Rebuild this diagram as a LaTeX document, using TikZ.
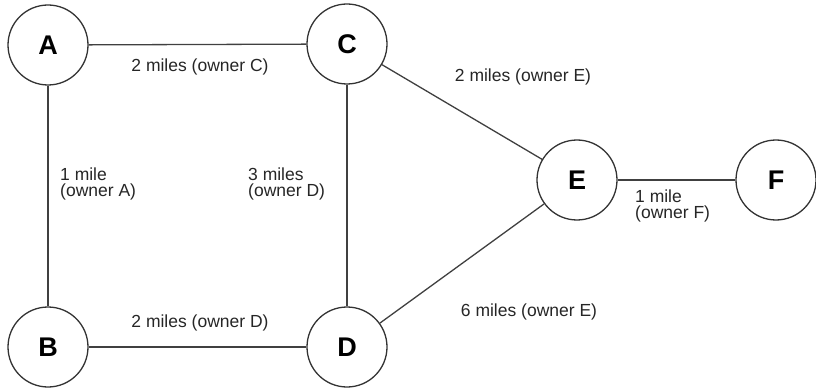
\documentclass[tikz,border=0pt]{standalone}
\usepackage{fontspec}
\setmainfont{Liberation Sans}
\begin{document}
\begin{tikzpicture}[x=1pt,y=-1pt,
  nd/.style={circle,draw=black!80,line width=1.3pt,minimum size=80pt,inner sep=0pt,font=\fontsize{27}{30}\selectfont\bfseries},
  edge/.style={draw=black!75,line width=1.3pt},
  lbl/.style={font=\fontsize{17.5}{18}\selectfont,text=black!85,inner sep=0pt},
  lbl2/.style={lbl,align=left}]
\useasboundingbox (0,0) rectangle (816,390);
\node[nd] (A) at (48,45) {A};
\node[nd] (C) at (347,44) {C};
\node[nd] (B) at (48,347) {B};
\node[nd] (D) at (347,347) {D};
\node[nd] (E) at (577,180) {E};
\node[nd] (F) at (776,180) {F};
\draw[edge] (A) -- (C);
\draw[edge] (A) -- (B);
\draw[edge] (B) -- (D);
\draw[edge] (C) -- (D);
\draw[edge] (C) -- (E);
\draw[edge] (D) -- (E);
\draw[edge] (E) -- (F);
\node[lbl] (lac) at (200,67) {2 miles (owner C)};
\node[lbl] (lbd) at (200,323) {2 miles (owner D)};
\node[lbl] (lce) at (523,77) {2 miles (owner E)};
\node[lbl] (lde) at (529,312) {6 miles (owner E)};
\node[lbl2,anchor=west] (lab) at (60,184) {1 mile\\[-2pt](owner A)};
\node[lbl2,anchor=west] (lcd) at (248,184) {3 miles\\[-2pt](owner D)};
\node[lbl2,anchor=west] (lef) at (635,206) {1 mile\\[-2pt](owner F)};
\end{tikzpicture}
\end{document}
